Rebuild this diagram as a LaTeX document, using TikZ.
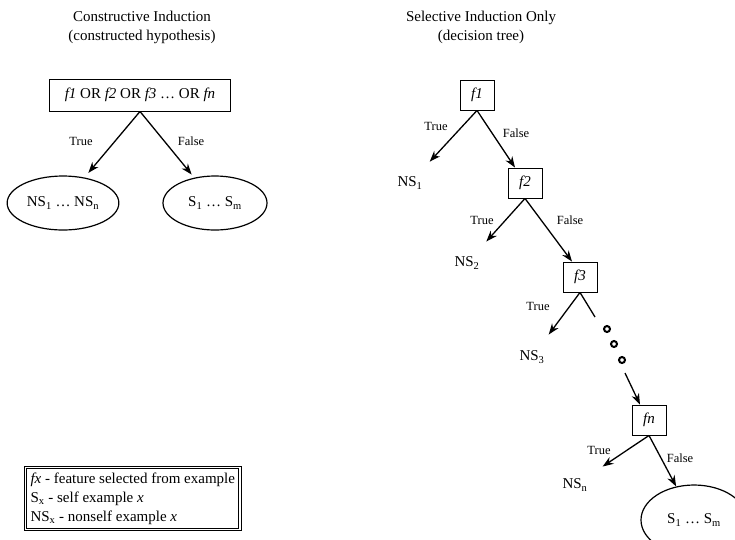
\documentclass[tikz,border=0pt]{standalone}
\usepackage{fontspec}
\setmainfont{Liberation Serif}
\usetikzlibrary{arrows.meta,shapes.geometric,positioning}

\begin{document}
\begin{tikzpicture}[x=1pt,y=-1pt,
                    big/.style={font=\fontsize{15}{19}\selectfont},
                    lbl/.style={font=\fontsize{12.5}{15}\selectfont},
                    arr/.style={-{Stealth[length=11pt,width=8pt]},line width=1.3pt},
                    true arr/.style={arr,shorten >=16pt},
                    test node/.style={draw,line width=0.9pt,minimum width=34pt,minimum height=30pt,inner sep=2pt,big},
                    leaf node/.style={ellipse,draw,line width=1.2pt,big},
                    dot/.style={circle,draw,line width=2pt,inner sep=0pt,minimum size=6pt}]

  \useasboundingbox (0,0) rectangle (735,539);

  % titles
  \node[big,align=center] (title1) at (142,27) {Constructive Induction\\(constructed hypothesis)};
  \node[big,align=center] (title2) at (481,27) {Selective Induction Only\\(decision tree)};

  % constructed hypothesis
  \node[test node,minimum width=181pt,minimum height=32pt] (hyp) at (140,95)
    {\textit{f1} OR \textit{f2} OR \textit{f3} \dots\ OR \textit{fn}};
  \node[leaf node,minimum width=104pt,minimum height=54pt] (nsall) at (63,203)
    {NS\textsubscript{1} \dots\ NS\textsubscript{n}};
  \node[leaf node,minimum width=104pt,minimum height=54pt] (sall) at (215,203)
    {S\textsubscript{1} \dots\ S\textsubscript{m}};
  \node[lbl] (htrue) at (81,141) {True};
  \node[lbl] (hfalse) at (191,141) {False};

  % decision tree
  \node[test node] (f1) at (477,95) {\textit{f1}};
  \node[test node] (f2) at (525,183) {\textit{f2}};
  \node[test node] (f3) at (580,277) {\textit{f3}};
  \node[test node] (fn) at (649,420) {\textit{fn}};
  \node[big] (ns1) at (410,183) {NS\textsubscript{1}};
  \node[big] (ns2) at (467,263) {NS\textsubscript{2}};
  \node[big] (ns3) at (532,357) {NS\textsubscript{3}};
  \node[big] (nsn) at (575,485) {NS\textsubscript{n}};
  \node[leaf node,minimum width=106pt,minimum height=70pt] (send) at (694,520)
    {S\textsubscript{1} \dots\ S\textsubscript{m}};

  \node[lbl] (t1) at (436,126) {True};
  \node[lbl] (n1) at (516,133) {False};
  \node[lbl] (t2) at (482,220) {True};
  \node[lbl] (n2) at (570,220) {False};
  \node[lbl] (t3) at (538,306) {True};
  \node[lbl] (t4) at (599,450) {True};
  \node[lbl] (n4) at (680,458) {False};

  % dots between f3 and fn
  \node[dot] (d1) at (607,329) {};
  \node[dot] (d2) at (614,344) {};
  \node[dot] (d3) at (622,360) {};
  \coordinate (c1) at (595,317);
  \coordinate (c2) at (625,373);

  % legend
  \node[draw,double,double distance=1.2pt,line width=1.1pt,inner sep=5pt,
        anchor=north west,align=left,big] (key) at (25,467)
    {\textit{fx} - feature selected from example\\
     S\textsubscript{x} - self example \textit{x}\\
     NS\textsubscript{x} - nonself example \textit{x}};

  \path[arr]
    (hyp.south) edge[shorten >=6pt] (nsall)
                edge[shorten >=4pt] (sall)
    (f1.south) edge[true arr] (ns1)
               edge ([xshift=-10pt]f2.north)
    (f2.south) edge[true arr] (ns2)
               edge ([xshift=-8pt]f3.north)
    (f3.south) edge[true arr] (ns3)
               edge[-] (c1)
    (c2) edge ([xshift=-9pt]fn.north)
    (fn.south) edge[true arr] (nsn)
               edge (send);

\end{tikzpicture}
\end{document}
